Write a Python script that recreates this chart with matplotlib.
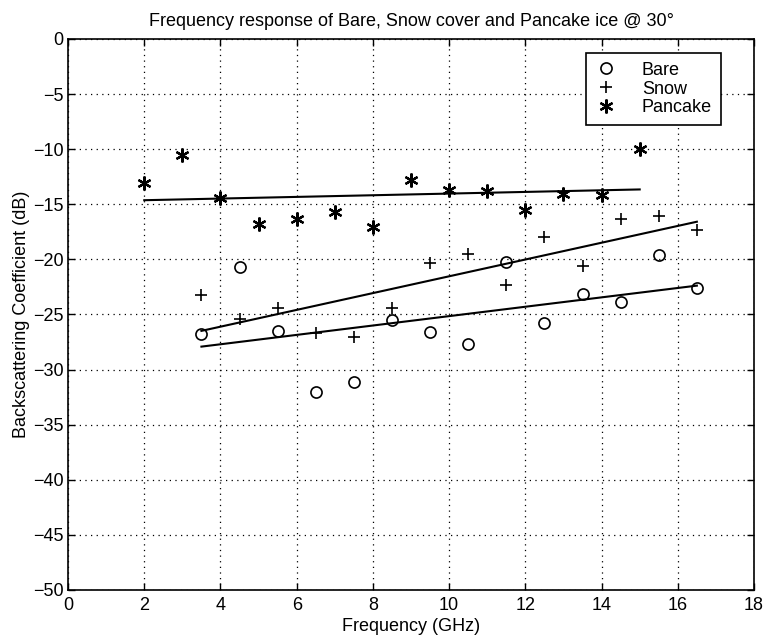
import numpy as np
import matplotlib
matplotlib.use("Agg")
import matplotlib.pyplot as plt

plt.rcParams['font.family'] = ['Liberation Sans', 'DejaVu Sans']

# Data
freq_pancake = [2, 3, 4, 5, 6, 7, 8, 9, 10, 11, 12, 13, 14, 15]
pancake = [-13.1, -10.5, -14.4, -16.8, -16.3, -15.7, -17.1, -12.8, -13.7, -13.8, -15.5, -14.1, -14.2, -10.0]

freq_snow = [3.5, 4.5, 5.5, 6.5, 7.5, 8.5, 9.5, 10.5, 11.5, 12.5, 13.5, 14.5, 15.5, 16.5]
snow = [-23.2, -25.4, -24.4, -26.7, -27.0, -24.4, -20.3, -19.5, -22.3, -18.0, -20.6, -16.3, -16.1, -17.3]

freq_bare = [3.5, 4.5, 5.5, 6.5, 7.5, 8.5, 9.5, 10.5, 11.5, 12.5, 13.5, 14.5, 15.5, 16.5]
bare = [-26.8, -20.7, -26.5, -32.0, -31.1, -25.5, -26.6, -27.7, -20.2, -25.8, -23.1, -23.9, -19.6, -22.6]

xticks = list(range(0, 19, 2))
yticks = list(range(-50, 1, 5))

fig = plt.figure(figsize=(7.67, 6.41), dpi=100)
ax = fig.add_axes([0.0887, 0.0796, 0.8944, 0.8596])

ast = (6, 2, 0)
ax.plot(freq_bare, bare, linestyle='none', marker='o', markersize=8, markerfacecolor='none',
        markeredgecolor='black', markeredgewidth=1.2, label='Bare')
ax.plot(freq_snow, snow, linestyle='none', marker='+', markersize=9, color='black',
        markeredgewidth=1.2, label='Snow')
ax.plot(freq_pancake, pancake, linestyle='none', marker=ast, markersize=10, color='black',
        markeredgewidth=1.6, label='Pancake')

for fx, fy in [(freq_bare, bare), (freq_snow, snow), (freq_pancake, pancake)]:
    fx = np.array(fx); fy = np.array(fy)
    p = np.polyfit(fx, fy, 1)
    xs = np.array([fx.min(), fx.max()])
    ax.plot(xs, np.polyval(p, xs), color='black', linewidth=1.5)

ax.set_xlim(0, 18)
ax.set_ylim(-50, 0)
ax.set_xticks(xticks)
ax.set_yticks(yticks)
ax.tick_params(direction='in', top=True, right=True, labelsize=13, length=5, width=1)
ax.tick_params(axis='x', pad=5)
ax.tick_params(axis='y', pad=3)
ax.grid(True, linestyle=(0, (1, 3.5)), color='black', linewidth=0.9)
for s in ax.spines.values():
    s.set_linewidth(1.2)

ax.set_xlabel('Frequency (GHz)', fontsize=13, labelpad=3)
ax.set_ylabel('Backscattering Coefficient (dB)', fontsize=13, labelpad=2)
ax.set_title('Frequency response of Bare, Snow cover and Pancake ice @ 30°', fontsize=13, pad=9)

leg = ax.legend(loc='upper right', bbox_to_anchor=(0.952, 0.975), fontsize=13, frameon=True,
                fancybox=False, edgecolor='black', framealpha=1, handlelength=1.2,
                borderpad=0.5, labelspacing=0.1, handletextpad=1.4, borderaxespad=0)
leg.get_frame().set_linewidth(1.2)

fig.savefig('out.png', dpi=100)
